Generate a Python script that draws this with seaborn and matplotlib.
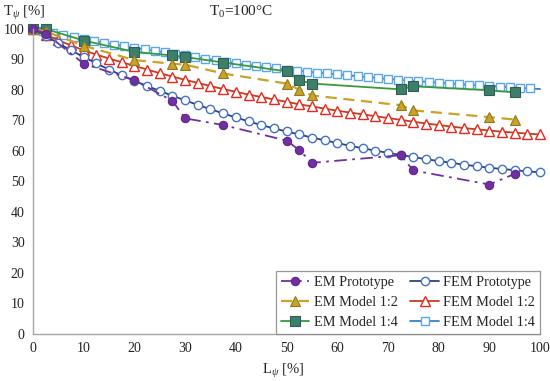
import matplotlib
matplotlib.use("Agg")
import matplotlib.pyplot as plt
import seaborn as sns

# measurement points (EM), same positions for all three scales
em_x = [0, 2.5, 10, 20, 27.5, 30, 37.5, 50, 52.5, 55, 72.5, 75, 90, 95]
em_proto = [100, 98.5, 88.6, 83.2, 76.4, 70.7, 68.5, 63.4, 60.3, 56.1, 58.6, 53.6, 49.0, 52.5]
em_12 = [100, 99.2, 94.5, 89.8, 88.6, 88.3, 85.4, 82.1, 80.1, 78.2, 75.0, 73.3, 71.1, 70.3]
em_14 = [100, 100, 96.2, 92.5, 91.3, 90.8, 89.0, 86.1, 83.2, 82.1, 80.2, 81.2, 79.9, 79.2]

# FEM curves
fem_x = [0, 2.5, 5, 7.5, 10, 12.5, 15, 17.5, 20, 22.5, 25, 27.5, 30, 32.5, 35, 37.5,
         40, 42.5, 45, 47.5, 50, 52.5, 55, 57.5, 60, 62.5, 65, 67.5, 70, 72.5, 75,
         77.5, 80, 82.5, 85, 87.5, 90, 92.5, 95, 97.5, 100]
fem_proto = [100, 97.7, 95.3, 93.0, 90.8, 88.7, 86.7, 84.8, 83.0, 81.3, 79.7, 78.1,
             76.6, 75.1, 73.7, 72.3, 71.0, 69.7, 68.5, 67.4, 66.4, 65.4, 64.4, 63.5,
             62.6, 61.7, 60.9, 60.1, 59.4, 58.7, 58.0, 57.3, 56.7, 56.1, 55.5, 55.0,
             54.5, 54.1, 53.7, 53.3, 53.0]
fem_12 = [100, 98.1, 96.3, 94.6, 93.0, 91.6, 90.3, 89.1, 87.9, 86.7, 85.5, 84.4,
          83.3, 82.3, 81.3, 80.3, 79.4, 78.5, 77.7, 76.9, 76.1, 75.3, 74.6, 73.9,
          73.2, 72.6, 72.0, 71.4, 70.8, 70.2, 69.6, 69.0, 68.5, 68.0, 67.5, 67.1,
          66.7, 66.3, 66.0, 65.7, 65.4]
fem14_x = [0, 2, 4, 6, 8, 10, 12, 14, 16, 18, 20, 22, 24, 26, 28, 30, 32, 34, 36, 38,
           40, 42, 44, 46, 48, 50, 52, 54, 56, 58, 60, 62, 64, 66, 68, 70, 72, 74, 76,
           78, 80, 82, 84, 86, 88, 90, 92, 94, 96, 98, 100]
fem_14 = [100, 99.3, 98.6, 97.9, 97.3, 96.7, 96.1, 95.5, 94.9, 94.3, 93.8, 93.3,
          92.8, 92.3, 91.8, 91.3, 90.8, 90.3, 89.8, 89.3, 88.8, 88.3, 87.9, 87.5,
          87.1, 86.7, 86.3, 86.0, 85.7, 85.4, 85.1, 84.8, 84.5, 84.2, 83.9, 83.6,
          83.4, 83.1, 82.9, 82.6, 82.4, 82.1, 81.9, 81.7, 81.5, 81.3, 81.1, 80.9,
          80.7, 80.5, 80.3]

sns.set_theme(style="white")
plt.rcParams["font.family"] = ["Liberation Serif", "DejaVu Serif"]
plt.rcParams["mathtext.fontset"] = "custom"
plt.rcParams["mathtext.rm"] = "Liberation Serif"
plt.rcParams["mathtext.it"] = "Liberation Serif:italic"

fig = plt.figure(figsize=(5.5, 3.81), dpi=100)
ax = fig.add_axes([0.06, 0.1234, 0.922, 0.8006])

lw = 1.3
# FEM lines first
sns.lineplot(x=fem14_x, y=fem_14, ax=ax, color="#3C7FD2", lw=lw, marker="s", ms=6,
             mfc="white", mec="#5AA6E6", mew=1.0, markevery=list(range(50)),
             label="FEM Model 1:4", clip_on=False)
sns.lineplot(x=fem_x, y=fem_12, ax=ax, color="#C2401E", lw=lw, marker="^", ms=6.5,
             mfc="white", mec="#E8281E", mew=1.0, label="FEM Model 1:2", clip_on=False)
sns.lineplot(x=fem_x, y=fem_proto, ax=ax, color="#2E437E", lw=lw, marker="o", ms=6,
             mfc="white", mec="#4472C4", mew=1.0, label="FEM Prototype", clip_on=False)
# EM measurements
sns.lineplot(x=em_x, y=em_14, ax=ax, color="#3A9A3A", lw=lw, marker="s", ms=6.5,
             mfc="#3E7F6C", mec="#2D5E56", mew=0.8, label="EM Model 1:4", clip_on=False)
sns.lineplot(x=em_x, y=em_12, ax=ax, color="#C9A227", lw=lw + 0.3, ls=(0, (5, 3)),
             marker="^", ms=7, mfc="#C9A227", mec="#8E7A1C", mew=0.8,
             label="EM Model 1:2", clip_on=False)
sns.lineplot(x=em_x, y=em_proto, ax=ax, color="#7030A0", lw=lw, ls=(0, (7, 3, 1.5, 3)),
             marker="o", ms=6, mfc="#7030A0", mec="#5E2590", mew=0.8,
             label="EM Prototype", clip_on=False)

ax.set_xlim(0, 100)
ax.set_ylim(0, 100)
ax.set_xticks(range(0, 101, 10))
ax.set_yticks(range(0, 101, 10))
ax.tick_params(axis="both", length=0, labelsize=10, colors="#222222", pad=6)
ax.set_xlabel("")
ax.set_ylabel("")
for side in ["top", "right"]:
    ax.spines[side].set_visible(False)
for side in ["left", "bottom"]:
    ax.spines[side].set_color("#A6A6A6")
    ax.spines[side].set_linewidth(1.0)

h, l = ax.get_legend_handles_labels()
order = ["EM Prototype", "EM Model 1:2", "EM Model 1:4",
         "FEM Prototype", "FEM Model 1:2", "FEM Model 1:4"]
hl = dict(zip(l, h))
leg = ax.legend([hl[k] for k in order], order, ncol=2, loc="lower right",
                bbox_to_anchor=(1.0, 0.0), frameon=True, fancybox=False,
                fontsize=10.3, handlelength=2.0, columnspacing=0.9,
                borderaxespad=0, labelspacing=0.5, handletextpad=0.3,
                borderpad=0.35)
leg.get_frame().set_edgecolor("#7F7F7F")
leg.get_frame().set_linewidth(0.9)

fig.text(0.005, 0.965, r"T$_\psi$ [%]", fontsize=10.5, ha="left", va="center")
fig.text(0.438, 0.968, r"T$_0$=100°C", fontsize=11, ha="center", va="center")
fig.text(0.515, 0.027, r"L$_\psi$ [%]", fontsize=10.5, ha="center", va="center")

fig.savefig("out.png", dpi=100)
